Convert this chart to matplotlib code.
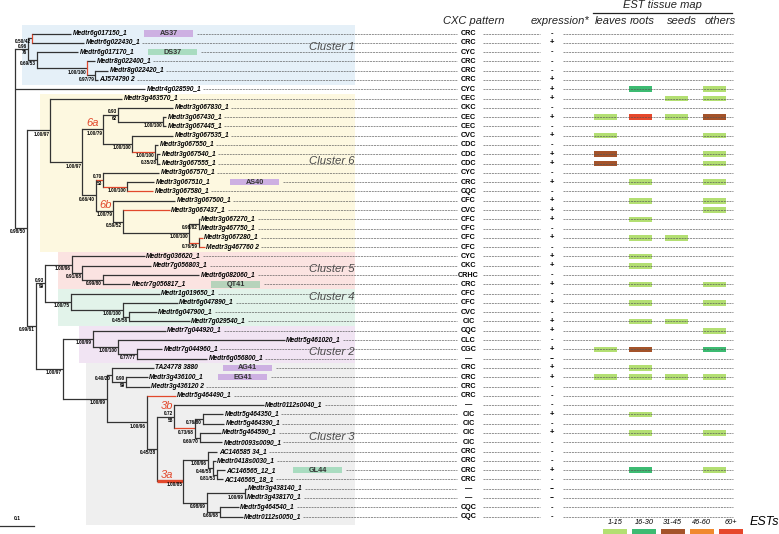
import re
import matplotlib
matplotlib.use("Agg")
import matplotlib.pyplot as plt
from matplotlib.patches import Rectangle

plt.rcParams['font.family'] = ['Liberation Sans', 'DejaVu Sans']

W, H = 779, 534

# phylogram, branch lengths in substitutions/site
# node label: support (| = split above/below), [..] = clade name, #r red branch, #R thick red, #v red vertical
TREE = (
    "(((Medtr6g017150_1:0.115,Medtr6g022430_1:0.153)0.50/42:0.012#v,"
    "(Medtr6g017170_1:0.121,(Medtr8g022400_1:0.024,(Medtr8g022420_1:0.038,AJ574790 2:0.009)0.97/79:0.024)"
    "1.00/100:0.147#v)0.69/53:0.026)0.96|76:0.037,"
    "Medtr4g028590_1:0.381,"
    "((Medtr3g463570_1:0.212,"
    "(((Medtr3g067830_1:0.162,(Medtr3g067430_1:0.009,Medtr3g067445_1:0.009)1.00/100:0.132)0.93|62:0.044,"
    "(Medtr3g067535_1:0.121,(Medtr3g067550_1:0.009,(Medtr3g067540_1:0.009,Medtr3g067555_1:0.009)0.35/28:0.006)"
    "1.00/100:0.068#r)1.00/100:0.085)1.00/79[6a]:0.062,"
    "((Medtr3g067570_1:0.165,(Medtr3g067510_1:0.079,Medtr3g067580_1:0.076#r)1.00/100:0.071#r)0.70|53:0.021#r,"
    "(Medtr3g067500_1:0.182,(Medtr3g067437_1:0.138#r,"
    "((Medtr3g067270_1:0.003,Medtr3g467750_1:0.003)0.98/82:0.029,"
    "(Medtr3g067280_1:0.012#r,Medtr3g467760 2:0.018#r)0.76/59:0.029#r)1.00/100:0.194)0.59/52:0.029)"
    "1.00/79[6b]:0.050)0.66/40:0.041)1.00/97:0.094)1.00/97:0.068,"
    "(((Medtr6g036620_1:0.215,(Medtr7g056803_1:0.203,(Medtr6g082060_1:0.285,Mectr7g056817_1:0.082)"
    "0.99/80:0.059)0.91/68:0.032)1.00/96:0.079,"
    "(Medtr1g019650_1:0.262,(Medtr6g047890_1:0.162,(Medtr6g047900_1:0.082,Medtr7g029540_1:0.179)"
    "0.45/56:0.018)1.00/100:0.153)1.00/75:0.076)0.93|99:0.026,"
    "((Medtr7g044920_1:0.215,(Medtr5g461020_1:0.491,(Medtr7g044960_1:0.074,Medtr6g056800_1:0.206)"
    "0.77/77:0.056)1.00/100:0.074)1.00/99:0.088,"
    "((TA24778 3880:0.124,(Medtr3g436100_1:0.065,Medtr3g436120 2:0.071)0.90|99:0.041)0.40/20:0.015,"
    "(Medtr5g464490_1:0.085#r,"
    "((Medtr0112s0040_1:0.265,((Medtr5g464350_1:0.059,Medtr5g464390_1:0.062)0.76/80:0.024,"
    "(Medtr5g464590_1:0.062,Medtr0093s0090_1:0.065)0.60/70:0.015)0.73/68:0.062#r)0.72|58[3b]:0.050,"
    "((AC146585 34_1:0.029,(Medtr0418s0030_1:0.009,(AC146565_12_1:0.024,AC146565_18_1:0.018)"
    "0.81/53:0.012)0.46/58:0.015)1.00/96:0.071,"
    "((Medtr3g438140_1:0.006,Medtr3g438170_1:0.003)1.00/99:0.112,"
    "(Medtr5g464540_1:0.056,Medtr0112s0050_1:0.068)0.66/68:0.038)0.98/69:0.068)1.00/85[3a]:0.079#R)"
    "0.45/38:0.029)1.00/96:0.118)1.00/99:0.129)1.00/97:0.079)0.99/61:0.026)0.98/50:0.034)"
)

CXC = ["CRC", "CRC", "CYC", "CRC", "CRC", "CRC", "CYC", "CEC", "CKC", "CEC",
       "CEC", "CVC", "CDC", "CDC", "CDC", "CYC", "CRC", "CQC", "CFC", "CVC",
       "CFC", "CFC", "CFC", "CFC", "CYC", "CKC", "CRHC", "CRC", "CFC", "CFC",
       "CVC", "CIC", "CQC", "CLC", "CGC", "\u2014", "CRC", "CRC", "CRC", "CRC",
       "\u2014", "CIC", "CIC", "CIC", "CIC", "CRC", "CRC", "CRC", "CRC", "\u2014",
       "\u2014", "CQC", "CQC"]

EXPR = ["-", "+", "-", "-", "-", "+", "+", "+", "-", "+",
        "-", "+", "-", "+", "+", "-", "+", "-", "+", "+",
        "+", "-", "+", "-", "+", "+", "-", "+", "-", "+",
        "-", "+", "+", "-", "+", "--", "+", "+", "-", "-",
        "-", "+", "-", "+", "-", "-", "-", "+", "-", "--",
        "--", "-", "-"]

# EST counts class per tissue (1: 1-15, 2: 16-30, 3: 31-45, 4: 46-60, 5: 60+)
EST_LEAVES = {9: 1, 11: 1, 13: 3, 14: 3, 34: 1, 37: 1}
EST_ROOTS = {6: 2, 9: 5, 16: 1, 18: 1, 20: 1, 22: 1, 24: 1, 25: 1, 27: 1, 29: 1,
             31: 1, 34: 3, 36: 1, 37: 1, 41: 1, 43: 1, 47: 2}
EST_SEEDS = {7: 1, 9: 1, 22: 1, 31: 1, 37: 1}
EST_OTHERS = {6: 1, 7: 1, 9: 3, 11: 1, 13: 1, 14: 1, 16: 1, 18: 1, 19: 1, 27: 1,
              29: 1, 32: 1, 34: 2, 37: 1, 43: 1, 47: 1}
TISSUES = ["leaves", "roots", "seeds", "others"]
EST_LEVELS = ["1-15", "16-30", "31-45", "46-60", "60+"]
EST_COLORS = ["#b3df72", "#3dbb72", "#a4532a", "#f0892e", "#e6472b"]

# named protein boxes: row -> (name, left px, colour)
BOXES = {0: ("AS37", 144, "#cdb0e2"), 2: ("DS37", 148, "#a9dcc0"),
         16: ("AS40", 230, "#cdb0e2"), 27: ("QT41", 211, "#b7d3bb"),
         36: ("AG41", 223, "#cdb0e2"), 37: ("EG41", 218, "#cdb0e2"),
         47: ("GL44", 293, "#a9dcc0")}

# clusters: name, first row, last row, left px, colour, label row
CLUSTERS = [("Cluster 1", 0, 5, 22, "#e5f0f8", 1.5),
            ("Cluster 6", 7, 23, 40, "#fdf8e0", 13.7),
            ("Cluster 5", 24, 27, 58, "#fbe3e1", 25.4),
            ("Cluster 4", 28, 31, 58, "#e2f3ea", 28.4),
            ("Cluster 2", 32, 35, 79, "#f1e4f3", 34.3),
            ("Cluster 3", 36, 52, 86, "#efefef", 43.4)]

ROW0, DROW = 33.5, 9.29
X0, SCALE = 15.5, 340.0   # px of root, px per substitution
TREE_C = "#333333"
RED = "#e2482c"


def parse(s):
    pat = re.compile(r"([^:,()]*)(?::([0-9.]+)(?:#(\w))?)?")
    pos = 0

    def node():
        nonlocal pos
        kids = []
        if s[pos] == "(":
            pos += 1
            while True:
                kids.append(node())
                ch = s[pos]
                pos += 1
                if ch == ")":
                    break
        m = pat.match(s, pos)
        pos = m.end()
        return {"label": m.group(1), "len": float(m.group(2) or 0),
                "flag": m.group(3) or "", "kids": kids}
    return node()


root = parse(TREE)
leaves = []


def layout(n, px):
    n["x"] = px + n["len"] * SCALE
    n["px"] = px
    if not n["kids"]:
        n["y"] = ROW0 + len(leaves) * DROW
        leaves.append(n)
    else:
        for k in n["kids"]:
            layout(k, n["x"])
        n["y"] = (n["kids"][0]["y"] + n["kids"][-1]["y"]) / 2


layout(root, X0)
rows = [ROW0 + i * DROW for i in range(len(leaves))]

fig = plt.figure(figsize=(W / 100, H / 100), dpi=100)
ax = fig.add_axes([0, 0, 1, 1])
ax.set_xlim(0, W)
ax.set_ylim(H, 0)
ax.axis("off")

# cluster backgrounds
for i, (name, r0, r1, left, col, lrow) in enumerate(CLUSTERS):
    top = rows[r0] - (8.5 if i == 0 else DROW / 2)
    bot = rows[r1] + (8.0 if i == len(CLUSTERS) - 1 else DROW / 2)
    ax.add_patch(Rectangle((left, top), 355 - left, bot - top, fc=col, ec="none", zorder=0))
    ax.text(355, ROW0 + lrow * DROW, name, ha="right", va="center", fontsize=8.2,
            style="italic", color="#4a4a4a", zorder=1)


def draw(n):
    if n is not root:
        red = n["flag"] in ("r", "R")
        ax.plot([n["px"], n["x"]], [n["y"], n["y"]], color=RED if red else TREE_C,
                lw=2.4 if n["flag"] == "R" else 0.9, solid_capstyle="butt", zorder=3)
    if n["kids"]:
        ys = [k["y"] for k in n["kids"]]
        ax.plot([n["x"], n["x"]], [min(ys), max(ys)],
                color=RED if n["flag"] == "v" else TREE_C, lw=0.9, zorder=3)
        lab = n["label"]
        m = re.match(r"([^\[]*)(?:\[(.*)\])?", lab)
        sup, clade = m.group(1), m.group(2)
        split = "|" in sup
        if sup and n is not root:
            parts = sup.split("|")
            if split:
                ax.text(n["x"] - 0.8, n["y"] - 0.6, parts[0], ha="right", va="bottom",
                        fontsize=3.4, fontweight="bold", zorder=4)
                ax.text(n["x"] - 0.8, n["y"] + 0.8, parts[1], ha="right", va="top",
                        fontsize=3.4, fontweight="bold", zorder=4)
            else:
                ax.text(n["x"] - 0.8, n["y"] + 1.2, sup, ha="right", va="top",
                        fontsize=3.4, fontweight="bold", zorder=4)
        if clade:
            ax.text(n["px"] + 10, n["y"] - (5.5 if split else 1.5), clade, ha="center",
                    va="bottom", fontsize=8, style="italic", color=RED, zorder=4)
        for k in n["kids"]:
            draw(k)


draw(root)

# leaf labels
label_txt = []
for n in leaves:
    t = ax.text(n["x"] + 1.5, n["y"], n["label"], ha="left", va="center", fontsize=4.75,
                fontweight="bold", style="italic", zorder=4)
    label_txt.append(t)

fig.canvas.draw()
rend = fig.canvas.get_renderer()
inv = ax.transData.inverted()

dash = dict(color="#555555", lw=0.45, ls=(0, (3.2, 1.3)), zorder=5)
tiss_x = [605.5, 641, 677, 715]
est_maps = [EST_LEAVES, EST_ROOTS, EST_SEEDS, EST_OTHERS]

for i, y in enumerate(rows):
    bb = label_txt[i].get_window_extent(rend)
    xend = inv.transform((bb.x1, bb.y0))[0] + 2
    if i in BOXES:
        name, bx, col = BOXES[i]
        ax.add_patch(Rectangle((bx, y - 3.2), 49, 6.4, fc=col, ec="none", zorder=2))
        ax.text(bx + 24.5, y, name, ha="center", va="center", fontsize=5.2,
                fontweight="bold", color="#333333", zorder=4)
        xend = bx + 53
    ax.plot([xend, 457], [y, y], **dash)
    ax.text(468.5, y, CXC[i], ha="center", va="center", fontsize=5.2, fontweight="bold", zorder=4)
    ax.plot([483, 540], [y, y], **dash)
    ax.text(552, y, EXPR[i], ha="center", va="center", fontsize=5.5, fontweight="bold", zorder=4)
    ax.plot([563, 733], [y, y], **dash)
    for tx, mp in zip(tiss_x, est_maps):
        if i in mp:
            ax.add_patch(Rectangle((tx - 11.5, y - 2.8), 23, 5.6, fc=EST_COLORS[mp[i] - 1],
                                   ec="none", zorder=2))

# headers
hdr = dict(fontsize=8, style="italic", va="center", ha="center", color="#222222")
ax.text(474, 21.5, "CXC pattern", **hdr)
ax.text(560, 21.5, "expression*", **hdr)
for tx, name in zip([611, 642.5, 681.5, 720], TISSUES):
    ax.text(tx, 21.5, name, **hdr)
ax.text(662.5, 5, "EST tissue map", **hdr)
ax.plot([593, 732], [13.2, 13.2], color="#222222", lw=0.9)

# legend
for k, (lab, col) in enumerate(zip(EST_LEVELS, EST_COLORS)):
    lx = 603 + k * 28.9
    ax.add_patch(Rectangle((lx, 528.5), 24, 8, fc=col, ec="none"))
    ax.text(lx + 12, 523, lab, ha="center", va="center", fontsize=5.3, style="italic")
ax.text(750, 522, "ESTs", ha="left", va="center", fontsize=9, style="italic")

# scale bar
ax.plot([0, 0.1 * SCALE], [526, 526], color=TREE_C, lw=0.9)
ax.text(0.05 * SCALE, 521, "0.1", ha="center", va="bottom", fontsize=3.6, fontweight="bold")

fig.savefig("out.png", dpi=100)
